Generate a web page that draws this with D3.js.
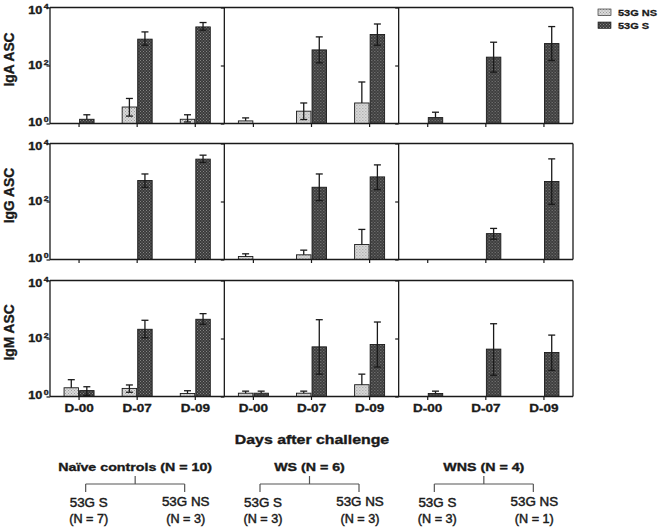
<!DOCTYPE html>
<html>
<head>
<meta charset="utf-8">
<script src="https://cdn.jsdelivr.net/npm/d3@7/dist/d3.min.js"></script>
<style>
  html, body { margin: 0; padding: 0; background: #fff; }
  svg { display: block; font-family: "Liberation Sans", Arial, sans-serif; }
</style>
</head>
<body>
<svg id="chart" width="660" height="528"></svg>
<script>
// ---------------- DATA ----------------
const days = ["D-00", "D-07", "D-09"];
const isotypes = ["IgA ASC", "IgG ASC", "IgM ASC"];
const groups = ["Naïve controls", "WS", "WNS"];
const series = ["53G NS", "53G S"];
const yTicks = [1, 100, 10000];
const yTickExp = ["0", "2", "4"];

// values per group (rows) per day (columns); null = no bar
const igaNS   = [[null, 3.7, 1.4], [1.23, 2.66, 5.1], [null, null, null]];
const igaNSHi = [[null, 7.3, 2.0], [1.56, 5.1, 27], [null, null, null]];
const igaNSLo = [[null, 1.8, 1.13], [null, 1.37, null], [null, null, null]];
const igaS    = [[1.4, 810, 2140], [null, 345, 1170], [1.6, 194, 570]];
const igaSHi  = [[2.0, 1440, 3030], [null, 970, 2700], [2.45, 635, 2200]];
const igaSLo  = [[null, 500, 1650], [null, 123, 500], [null, 59, 149]];

const iggNS   = [[null, null, null], [1.27, 1.45, 3.3], [null, null, null]];
const iggNSHi = [[null, null, null], [1.57, 2.1, 10.9], [null, null, null]];
const iggNSLo = [[null, null, null], [null, null, null], [null, null, null]];
const iggS    = [[null, 530, 2890], [null, 310, 705], [null, 7.8, 490]];
const iggSHi  = [[null, 890, 3960], [null, 890, 1830], [null, 11.8, 2950]];
const iggSLo  = [[null, 310, 2220], [null, 107, 258], [null, 5.0, 80]];

const igmNS   = [[2.0, 1.9, 1.27], [1.3, 1.3, 2.55], [null, null, null]];
const igmNSHi = [[3.8, 2.5, 1.58], [1.53, 1.53, 5.9], [null, null, null]];
const igmNSLo = [[null, 1.4, null], [null, null, null], [null, null, null]];
const igmS    = [[1.6, 208, 460], [1.3, 51.5, 62], [1.27, 43, 33]];
const igmSHi  = [[2.17, 425, 720], [1.53, 445, 370], [1.53, 323, 131]];
const igmSLo  = [[1.1, 106, 309], [null, 5.9, 10.4], [null, 5.4, 8]];

const xTitle = "Days after challenge";
const treeGroups = ["Naïve controls (N = 10)", "WS (N = 6)", "WNS (N = 4)"];
const treeSubs = [["53G S", "53G NS"], ["53G S", "53G NS"], ["53G S", "53G NS"]];
const treeNs = [["(N = 7)", "(N = 3)"], ["(N = 3)", "(N = 3)"], ["(N = 3)", "(N = 1)"]];

const dataByRow = [
  { NS: igaNS, NSHi: igaNSHi, NSLo: igaNSLo, S: igaS, SHi: igaSHi, SLo: igaSLo },
  { NS: iggNS, NSHi: iggNSHi, NSLo: iggNSLo, S: iggS, SHi: iggSHi, SLo: iggSLo },
  { NS: igmNS, NSHi: igmNSHi, NSLo: igmNSLo, S: igmS, SHi: igmSHi, SLo: igmSLo }
];

// ---------------- LAYOUT ----------------
const svg = d3.select("#chart");
const ink = "#1a1a1a";
const left = 50, right = 573;
const rowTops = [7.5, 143.5, 280.5];
const rowH = 116;

const defs = svg.append("defs");
function dotPattern(id, base, dot) {
  const p = defs.append("pattern").attr("id", id).attr("patternUnits", "userSpaceOnUse")
    .attr("width", 3).attr("height", 3);
  p.append("rect").attr("width", 3).attr("height", 3).attr("fill", base);
  p.append("rect").attr("x", 0).attr("y", 0).attr("width", 1).attr("height", 1).attr("fill", dot);
  p.append("rect").attr("x", 1.5).attr("y", 1.5).attr("width", 1).attr("height", 1).attr("fill", dot);
}
dotPattern("patNS", "#dadada", "#9c9c9c");
dotPattern("patS", "#3a3a3a", "#858585");
const fills = { "53G NS": "url(#patNS)", "53G S": "url(#patS)" };

function stext(sel, x, y, str, o) {
  return sel.append("text")
    .attr("transform", `translate(${x},${y}) scale(${o.sx || 1},1)`)
    .attr("text-anchor", o.anchor || "middle")
    .attr("font-size", o.size)
    .attr("font-weight", o.weight || "bold")
    .attr("fill", ink)
    .attr("stroke", ink)
    .attr("stroke-width", o.sw == null ? 0.3 : o.sw)
    .text(str);
}

const panelX = d3.scaleBand().domain(groups).range([left, right]);
const dayX = d3.scaleBand().domain(days).range([0, panelX.bandwidth()]);
const serX = d3.scaleBand().domain(series).range([-15, 15]).paddingInner(0.07);

isotypes.forEach((iso, r) => {
  const top = rowTops[r];
  const y = d3.scaleLog().domain([1, 10000]).range([top + rowH, top]);
  const g = svg.append("g");
  const d = dataByRow[r];

  groups.forEach((grp, gi) => {
    const px = panelX(grp);
    const pg = g.append("g").attr("transform", `translate(${px},0)`);

    // bars
    days.forEach((day, di) => {
      const c = dayX(day) + dayX.bandwidth() / 2;
      series.forEach(s => {
        const key = s === "53G NS" ? "NS" : "S";
        const v = d[key][gi][di];
        if (v == null) return;
        const hi = d[key + "Hi"][gi][di];
        const lo = d[key + "Lo"][gi][di];
        const bx = c + serX(s);
        pg.append("rect")
          .attr("x", bx).attr("y", y(v))
          .attr("width", serX.bandwidth()).attr("height", y(1) - y(v))
          .attr("fill", fills[s]).attr("stroke", ink).attr("stroke-width", 0.9);
        const ex = bx + serX.bandwidth() / 2;
        const yLo = lo == null ? y(v) : y(lo);
        pg.append("line").attr("x1", ex).attr("x2", ex).attr("y1", yLo).attr("y2", y(hi))
          .attr("stroke", ink).attr("stroke-width", 1.3);
        pg.append("line").attr("x1", ex - 3.5).attr("x2", ex + 3.5).attr("y1", y(hi)).attr("y2", y(hi))
          .attr("stroke", ink).attr("stroke-width", 1.3);
        if (lo != null) {
          pg.append("line").attr("x1", ex - 3.5).attr("x2", ex + 3.5).attr("y1", y(lo)).attr("y2", y(lo))
            .attr("stroke", ink).attr("stroke-width", 1.3);
        }
      });
    });

    // y axis (ticks only)
    const ya = pg.append("g").call(d3.axisLeft(y).tickValues(yTicks).tickSize(3.5).tickFormat(""));
    ya.select(".domain").remove();
    ya.selectAll("line").attr("stroke", ink).attr("stroke-width", 1.2);

    // x axis
    const xa = pg.append("g").attr("transform", `translate(0,${top + rowH})`)
      .call(d3.axisBottom(dayX).tickSize(3.5).tickSizeOuter(0));
    xa.select(".domain").remove();
    xa.selectAll("line").attr("stroke", ink).attr("stroke-width", 1.2);
    if (r === 2) {
      xa.selectAll("text")
        .attr("y", 15.5).attr("dy", 0)
        .attr("transform", "scale(1.25,1)")
        .attr("font-size", 10.8).attr("font-weight", "bold")
        .attr("font-family", "Liberation Sans, Arial, sans-serif")
        .attr("fill", ink).attr("stroke", ink).attr("stroke-width", 0.3);
    } else {
      xa.selectAll("text").remove();
    }

    // vertical panel line (left side of every panel)
    pg.append("line").attr("x1", 0).attr("x2", 0).attr("y1", top).attr("y2", top + rowH)
      .attr("stroke", ink).attr("stroke-width", 1.3);
  });

  // frame top, bottom, right
  g.append("line").attr("x1", left).attr("x2", right).attr("y1", top).attr("y2", top)
    .attr("stroke", ink).attr("stroke-width", 1.3);
  g.append("line").attr("x1", left).attr("x2", right).attr("y1", top + rowH).attr("y2", top + rowH)
    .attr("stroke", ink).attr("stroke-width", 1.3);
  g.append("line").attr("x1", right).attr("x2", right).attr("y1", top).attr("y2", top + rowH)
    .attr("stroke", ink).attr("stroke-width", 1.3);

  // y tick labels on leftmost panel
  yTicks.forEach((t, i) => {
    const off = i === 0 ? 2.8 : (i === yTicks.length - 1 ? 6.2 : 3.8);
    const tx = g.append("text")
      .attr("transform", `translate(${left - 1.5},${y(t) + off}) scale(1.22,1)`)
      .attr("text-anchor", "end").attr("font-weight", "bold").attr("fill", ink)
      .attr("stroke", ink).attr("stroke-width", 0.35);
    tx.append("tspan").attr("font-size", 10.4).text("10");
    tx.append("tspan").attr("font-size", 7.2).attr("dy", -4.3).attr("dx", 1).text(yTickExp[i]);
  });

  // y title
  g.append("text")
    .attr("transform", `translate(13.5,${top + rowH / 2 - 6}) rotate(-90)`)
    .attr("text-anchor", "middle").attr("font-size", 13.8).attr("font-weight", "bold")
    .attr("fill", ink).attr("stroke", ink).attr("stroke-width", 0.35).text(iso);
});

// legend
series.forEach((s, i) => {
  const ly = 9 + i * 13;
  svg.append("rect").attr("x", 598).attr("y", ly).attr("width", 13).attr("height", 6.5)
    .attr("fill", fills[s]).attr("stroke", ink).attr("stroke-width", 0.6);
  stext(svg, 618, ly + 6.6, s, { size: 8.8, anchor: "start", sx: 1.25, sw: 0.25 });
});

// x title
stext(svg, 312, 444, xTitle, { size: 12.6, sx: 1.26, sw: 0.35 });

// tree
treeGroups.forEach((lab, i) => {
  const cx = panelX(groups[i]) + panelX.bandwidth() / 2 - 2;
  const half = 49.5;
  stext(svg, cx, 470.7, lab, { size: 11.2, sx: 1.27, sw: 0.35 });
  const tg = svg.append("g").attr("stroke", "#555").attr("stroke-width", 1.2).attr("fill", "none");
  tg.append("line").attr("x1", cx).attr("x2", cx).attr("y1", 476).attr("y2", 484);
  tg.append("line").attr("x1", cx - half).attr("x2", cx + half).attr("y1", 484).attr("y2", 484);
  tg.append("line").attr("x1", cx - half).attr("x2", cx - half).attr("y1", 484).attr("y2", 492);
  tg.append("line").attr("x1", cx + half).attr("x2", cx + half).attr("y1", 484).attr("y2", 492);
  [-1, 1].forEach((sgn, j) => {
    const sx = cx + sgn * half + (j === 0 ? 3 : 1);
    stext(svg, sx, j === 0 ? 507 : 505.5, treeSubs[i][j], { size: 12.4, weight: "normal", sx: 1.08, sw: 0.45 });
    stext(svg, sx, 522.5, treeNs[i][j], { size: 12.4, weight: "normal", sx: 1.02, sw: 0.45 });
  });
});
</script>
</body>
</html>
